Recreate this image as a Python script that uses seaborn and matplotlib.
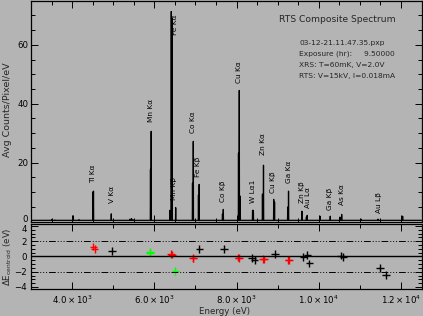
import numpy as np
import pandas as pd
import matplotlib
matplotlib.use("Agg")
import matplotlib.pyplot as plt
import matplotlib.transforms as mtransforms
import seaborn as sns
from matplotlib.ticker import MultipleLocator

# ---------------- data ----------------
# spectrum peaks: energy (eV) and height (avg counts/pixel/eV)
peak_energy = [3511, 3584, 4029, 4168, 4505, 4520, 4953, 5408, 5445, 5481,
               5907, 5924, 6381, 6413, 6430, 6520, 6929, 6948, 7074, 7091,
               7658, 7678, 8048, 8067, 8090, 8390, 8410, 8631, 8656, 8905,
               8925, 9245, 9265, 9590, 9700, 9720, 10030, 10280, 10516, 10558,
               11027, 11441, 12041]
peak_height = [0.7, 0.5, 1.9, 0.6, 10.0, 10.3, 2.6, 0.8, 1.0, 0.6,
               17.7, 30.6, 3.8, 71.3, 69.0, 4.7, 13.0, 27.2, 9.0, 12.6,
               2.5, 4.1, 23.2, 44.5, 8.6, 3.8, 3.8, 9.3, 19.1, 7.5,
               6.6, 4.9, 10.3, 3.5, 1.5, 2.1, 1.8, 1.8, 1.5, 2.4,
               0.8, 0.8, 1.8]
baseline = 0.4
e_min, e_max = 3000, 12500

line_labels = ["Ti Kα", "V Kα", "Mn Kα", "Fe Kα", "Mn Kβ", "Co Kα", "Fe Kβ",
               "Co Kβ", "Cu Kα", "Zn Kα", "W Lα1", "Cu Kβ", "Ga Kα", "Zn Kβ",
               "Au Lα", "Ga Kβ", "As Kα", "Au Lβ"]
label_energy = [4508, 4970, 5919, 6503, 6490, 6941, 7062, 7663, 8052, 8643,
                8400, 8887, 9276, 9585, 9738, 10273, 10565, 11465]
label_base = [13.0, 6.2, 33.7, 63.2, 7.2, 29.9, 15.0, 6.5, 46.9, 22.5,
              6.2, 9.6, 13.0, 6.2, 4.5, 3.8, 5.5, 2.8]

# centroid residuals
res_energy = [4520, 4545, 4975, 5888, 5899, 6512, 6410, 6425, 6935, 6950,
              7097, 7690, 8045, 8060, 8383, 8439, 8640, 8666, 8934, 9260,
              9280, 9627, 9724, 9773, 10537, 10602, 11488, 11634]
res_delta = [1.3, 0.95, 0.72, 0.45, 0.55, -1.9, 0.3, 0.25, -0.2, -0.25,
             1.0, 0.95, -0.15, -0.2, -0.24, -0.45, -0.35, -0.4, 0.3, -0.45,
             -0.5, -0.05, 0.2, -0.9, 0.1, -0.1, -1.55, -2.45]
res_group = ["red", "red", "black", "green", "green", "green", "red", "red", "red", "red",
             "black", "black", "red", "red", "black", "black", "red", "red", "black", "red",
             "red", "black", "black", "black", "black", "black", "black", "black"]

xtick_values = [4000, 6000, 8000, 10000, 12000]
xtick_labels = [r"$4.0\times10^{3}$", r"$6.0\times10^{3}$", r"$8.0\times10^{3}$",
                r"$1.0\times10^{4}$", r"$1.2\times10^{4}$"]

info_lines = ["03-12-21.11.47.35.pxp", "Exposure (hr):     9.50000",
              "XRS: T=60mK, V=2.0V", "RTS: V=15kV, I=0.018mA"]

# ---------------- build spectrum polyline ----------------
hw = 5
xs, ys = [e_min], [baseline]
for e, h in sorted(zip(peak_energy, peak_height)):
    xs += [e - hw, e, e + hw]
    ys += [baseline, h, baseline]
xs.append(e_max)
ys.append(baseline)
spec = pd.DataFrame({"E": xs, "c": ys})
res = pd.DataFrame({"E": res_energy, "d": res_delta, "g": res_group})

# ---------------- figure ----------------
sns.set_theme(style="ticks")
plt.rcParams['font.family'] = ['DejaVu Sans']
plt.rcParams['mathtext.fontset'] = 'dejavusans'
bg = "#b4b4b4"
W, H = 423, 316
fig = plt.figure(figsize=(W / 100, H / 100), dpi=100, facecolor=bg)

def fx(px):
    return px / W

def fy(py):
    return 1 - py / H

ax1 = fig.add_axes([fx(31), fy(221.5), fx(421.5) - fx(31), fy(0.6) - fy(221.5)])
ax2 = fig.add_axes([fx(31), fy(288.5), fx(421.5) - fx(31), fy(224) - fy(288.5)])

for ax in (ax1, ax2):
    ax.set_facecolor(bg)
    for s in ax.spines.values():
        s.set_color("black")
        s.set_linewidth(0.9)
    ax.tick_params(which="both", direction="in", top=True, right=True,
                   colors="black", labelsize=6.2, width=0.7)
    ax.tick_params(which="major", length=5)
    ax.tick_params(which="minor", length=3)

sns.lineplot(data=spec, x="E", y="c", ax=ax1, sort=False, estimator=None,
             color="black", linewidth=0.9)
ax1.set_ylim(0, 75)
ax1.set_xlim(e_min, e_max)
ax1.set_xlabel("")
ax1.set_ylabel("")
ax1.xaxis.set_major_locator(MultipleLocator(2000))
ax1.xaxis.set_minor_locator(MultipleLocator(500))
ax1.yaxis.set_major_locator(MultipleLocator(20))
ax1.yaxis.set_minor_locator(MultipleLocator(5))
ax1.set_xticklabels([])
ax1.tick_params(axis="y", pad=2)

for t, e, b in zip(line_labels, label_energy, label_base):
    ax1.text(e, b, t, rotation=90, ha="center", va="bottom", fontsize=5.3,
             color="black")

# residual panel
ax2.axhline(0, color="black", linewidth=1.0)
for v in (2, -2):
    ax2.axhline(v, color="black", linewidth=0.7,
                linestyle=(0, (7, 2, 1, 2, 1, 2, 1, 2)))
sns.scatterplot(data=res, x="E", y="d", hue="g", ax=ax2, marker="+", s=30,
                palette={"black": "black", "red": "#ff0000", "green": "#00ff00"},
                linewidth=1.0, legend=False)
ax2.set_xlim(e_min, e_max)
ax2.set_ylim(-4.2, 4.25)
ax2.set_xlabel("")
ax2.set_ylabel("")
ax2.set_xticks(xtick_values, xtick_labels)
ax2.xaxis.set_minor_locator(MultipleLocator(1000))
ax2.yaxis.set_major_locator(MultipleLocator(2))
ax2.yaxis.set_minor_locator(MultipleLocator(0.5))
ax2.tick_params(axis="x", pad=4)
ax2.tick_params(axis="y", pad=3)

# texts
fig.text(fx(8), fy(110), "Avg Counts/Pixel/eV", rotation=90, ha="center",
         va="center", fontsize=6.8)
fig.text(fx(8), fy(257), r"$\Delta$E$_{\mathrm{centroid}}$ (eV)", rotation=90,
         ha="center", va="center", fontsize=6.2)
fig.text(fx(224), fy(311), "Energy (eV)", ha="center", va="center", fontsize=6.2)
fig.text(fx(279), fy(20), "RTS Composite Spectrum", ha="left", va="center",
         fontsize=6.6)
for i, line in enumerate(info_lines):
    fig.text(fx(299), fy(43 + 11 * i), line, ha="left", va="center",
             fontsize=5.4)

# nudge the end tick labels like the reference (keep them off each other)
fig.canvas.draw()
up = mtransforms.ScaledTranslation(0, 3.5 / 100, fig.dpi_scale_trans)
down = mtransforms.ScaledTranslation(0, -3 / 100, fig.dpi_scale_trans)
for lab in ax1.get_yticklabels():
    if lab.get_text() == "0":
        lab.set_transform(lab.get_transform() + up)
for lab in ax2.get_yticklabels():
    if lab.get_text() == "4":
        lab.set_transform(lab.get_transform() + down)

fig.savefig("out.png", dpi=100, facecolor=bg)
